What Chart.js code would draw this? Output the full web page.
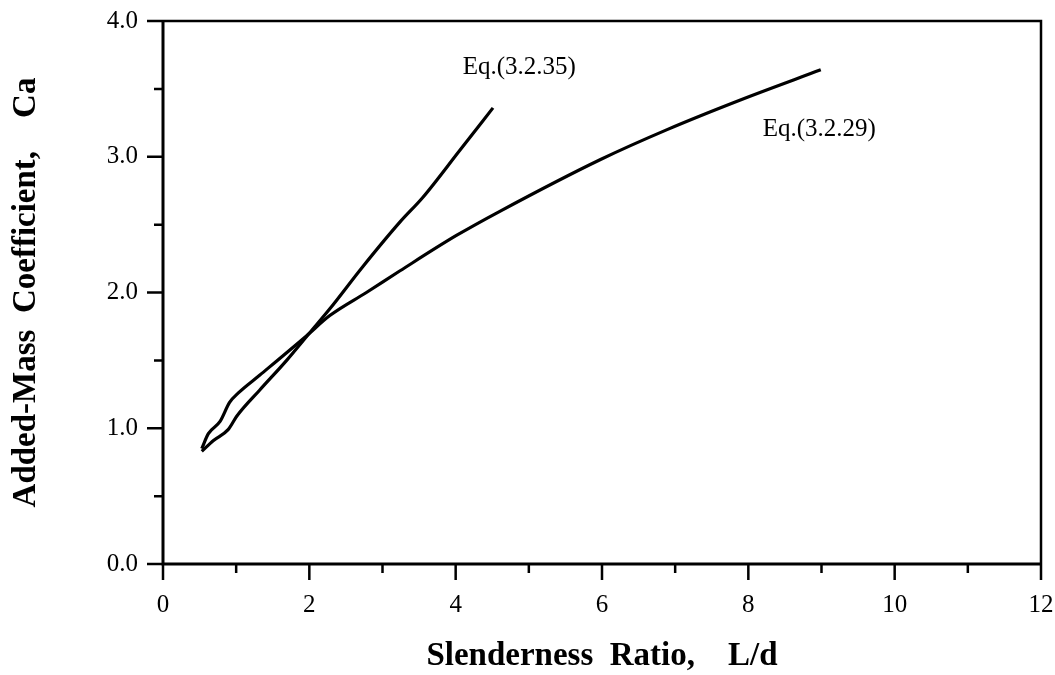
<!DOCTYPE html>
<html>
<head>
<meta charset="utf-8">
<title>Added-Mass Coefficient vs Slenderness Ratio</title>
<script src="https://cdn.jsdelivr.net/npm/chart.js@4/dist/chart.umd.min.js"></script>
<style>
  html, body { margin: 0; padding: 0; background: #fff; }
  canvas { display: block; }
</style>
</head>
<body>
<canvas id="caChart" width="1055" height="675"></canvas>
<script>
// ===== DATA =====
// Eq.(3.2.35)
const eq35L  = [0.53, 0.69, 0.89, 1.01, 1.32, 1.69, 2.00, 2.28, 2.73, 3.24, 3.55, 4.06, 4.51];
const eq35Ca = [0.83, 0.91, 0.99, 1.09, 1.28, 1.50, 1.70, 1.88, 2.19, 2.52, 2.70, 3.05, 3.36];

// Eq.(3.2.29)
const eq29L  = [0.53, 0.62, 0.78, 0.91, 1.03, 1.32, 1.96, 2.28, 2.78, 3.24, 4.01, 4.61, 5.98, 6.89, 7.90, 8.99];
const eq29Ca = [0.85, 0.96, 1.05, 1.19, 1.26, 1.39, 1.68, 1.83, 2.00, 2.16, 2.42, 2.60, 2.98, 3.20, 3.42, 3.64];

// curve labels, placed in data units
const curveLabels = ['Eq.(3.2.35)', 'Eq.(3.2.29)'];
const labelL  = [4.87, 8.97];
const labelCa = [3.66, 3.20];

// tick marks
const xMajorTicks = [0, 2, 4, 6, 8, 10, 12];
const xMinorTicks = [1, 3, 5, 7, 9, 11];
const yMajorTicks = [0, 1, 2, 3, 4];
const yMinorTicks = [0.5, 1.5, 2.5, 3.5];

const SERIF = '"Liberation Serif", "DejaVu Serif", serif';

const toPoints = (xs, ys) => xs.map((x, i) => ({ x, y: ys[i] }));

// ===== FRAME + TICKS + LABELS =====
const framePlugin = {
  id: 'frame',
  afterDraw(chart) {
    const { ctx, chartArea: a, scales: { x, y } } = chart;
    ctx.save();
    ctx.strokeStyle = '#000';
    ctx.lineCap = 'butt';

    // top / right border
    ctx.lineWidth = 2.5;
    ctx.beginPath();
    ctx.moveTo(a.left, a.top);
    ctx.lineTo(a.right, a.top);
    ctx.lineTo(a.right, a.bottom);
    ctx.stroke();

    // left / bottom axes
    ctx.lineWidth = 3;
    ctx.beginPath();
    ctx.moveTo(a.left, a.top - 1);
    ctx.lineTo(a.left, a.bottom);
    ctx.lineTo(a.right + 1, a.bottom);
    ctx.stroke();

    // outward ticks
    ctx.lineWidth = 2.5;
    ctx.beginPath();
    xMajorTicks.forEach(v => { const px = x.getPixelForValue(v); ctx.moveTo(px, a.bottom); ctx.lineTo(px, a.bottom + 16); });
    xMinorTicks.forEach(v => { const px = x.getPixelForValue(v); ctx.moveTo(px, a.bottom); ctx.lineTo(px, a.bottom + 9); });
    yMajorTicks.forEach(v => { const py = y.getPixelForValue(v); ctx.moveTo(a.left, py); ctx.lineTo(a.left - 16, py); });
    yMinorTicks.forEach(v => { const py = y.getPixelForValue(v); ctx.moveTo(a.left, py); ctx.lineTo(a.left - 9, py); });
    ctx.stroke();

    // curve labels
    ctx.fillStyle = '#000';
    ctx.font = '25px ' + SERIF;
    ctx.textAlign = 'center';
    ctx.textBaseline = 'middle';
    curveLabels.forEach((t, i) => {
      ctx.fillText(t, x.getPixelForValue(labelL[i]), y.getPixelForValue(labelCa[i]));
    });
    ctx.restore();
  }
};

// ===== CHART =====
const lineStyle = {
  borderColor: '#000',
  borderWidth: 3.2,
  pointRadius: 0,
  fill: false,
  cubicInterpolationMode: 'monotone'
};

// invisible tick marks only reserve room between axis and labels;
// ticks.padding would also widen the layout padding
const spacerGrid = (len) => ({
  display: true,
  drawOnChartArea: false,
  drawTicks: true,
  tickLength: len,
  color: 'rgba(0,0,0,0)'
});

new Chart(document.getElementById('caChart'), {
  type: 'line',
  data: {
    datasets: [
      { label: curveLabels[0], data: toPoints(eq35L, eq35Ca), ...lineStyle },
      { label: curveLabels[1], data: toPoints(eq29L, eq29Ca), ...lineStyle }
    ]
  },
  options: {
    responsive: false,
    animation: false,
    devicePixelRatio: 1,
    layout: { autoPadding: false, padding: { top: 21, right: 14, left: 0, bottom: 0 } },
    plugins: {
      legend: { display: false },
      tooltip: { enabled: false }
    },
    scales: {
      x: {
        type: 'linear',
        min: 0,
        max: 12,
        grid: spacerGrid(26),
        border: { display: false },
        ticks: {
          stepSize: 2,
          padding: 0,
          color: '#000',
          font: { family: SERIF, size: 25 }
        },
        title: {
          display: true,
          text: 'Slenderness  Ratio,    L/d',
          color: '#000',
          padding: { top: 0, bottom: 0 },
          font: { family: SERIF, size: 33, weight: 'bold', lineHeight: 1.1 }
        },
        afterFit: (s) => { s.height = 111; }
      },
      y: {
        type: 'linear',
        min: 0,
        max: 4,
        grid: spacerGrid(25),
        border: { display: false },
        ticks: {
          stepSize: 1,
          padding: 0,
          color: '#000',
          font: { family: SERIF, size: 25 },
          callback: (v) => v.toFixed(1)
        },
        title: {
          display: true,
          text: 'Added-Mass  Coefficient,    Ca',
          color: '#000',
          padding: { top: 8, bottom: 0 },
          font: { family: SERIF, size: 33, weight: 'bold', lineHeight: 1.1 }
        },
        afterFit: (s) => { s.width = 163; }
      }
    }
  },
  plugins: [framePlugin]
});
</script>
</body>
</html>
